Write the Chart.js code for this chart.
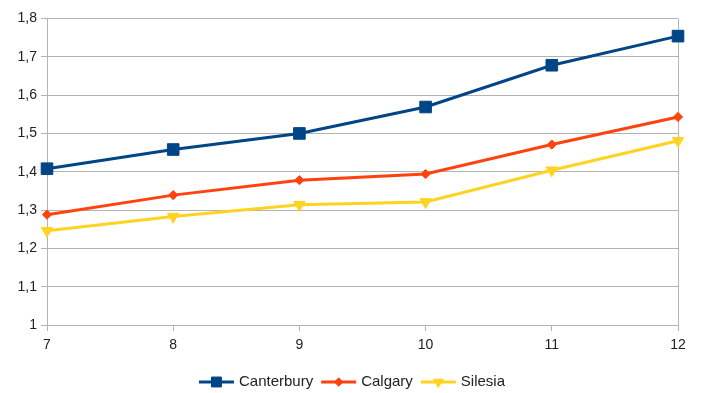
<!DOCTYPE html>
<html>
<head>
<meta charset="utf-8">
<script src="https://cdn.jsdelivr.net/npm/chart.js@4/dist/chart.umd.min.js"></script>
<style>
  html, body { margin: 0; padding: 0; background: #fff; }
  #wrap { width: 704px; height: 393px; }
</style>
</head>
<body>
<div id="wrap"><canvas id="c" width="704" height="393"></canvas></div>
<script>
// X categories and series values
const categories = ['7', '8', '9', '10', '11', '12'];
const canterbury = [1.408, 1.458, 1.500, 1.569, 1.678, 1.754];
const calgary    = [1.288, 1.339, 1.378, 1.394, 1.471, 1.543];
const silesia    = [1.246, 1.283, 1.314, 1.321, 1.404, 1.481];
const yTicks     = [1, 1.1, 1.2, 1.3, 1.4, 1.5, 1.6, 1.7, 1.8];

const FONT = 'Liberation Sans, Arial, sans-serif';
const GRID = '#b3b3b3';

const series = [
  { label: 'Canterbury', data: canterbury, color: '#004586', style: 'rect',     radius: 8.2, legendRadius: 7,   rotation: 0 },
  { label: 'Calgary',    data: calgary,    color: '#ff420e', style: 'rectRot',  radius: 4.6, legendRadius: 4.2, rotation: 0 },
  { label: 'Silesia',    data: silesia,    color: '#ffd320', style: 'triangle', radius: 6.6, legendRadius: 5.6, rotation: 180 }
];

function fmt(v) {
  const r = Math.round(v * 10) / 10;
  return String(r).replace('.', ',');
}

// right border of the plot area
const frame = {
  id: 'frame',
  beforeDatasetsDraw(chart) {
    const a = chart.chartArea, ctx = chart.ctx;
    ctx.save();
    ctx.strokeStyle = GRID;
    ctx.lineWidth = 1;
    ctx.beginPath();
    ctx.moveTo(Math.round(a.right) + 0.5, a.top);
    ctx.lineTo(Math.round(a.right) + 0.5, a.bottom);
    ctx.stroke();
    ctx.restore();
  }
};

// legend: line sample with marker, then label, centred under the chart
const lineLegend = {
  id: 'lineLegend',
  afterDraw(chart) {
    const ctx = chart.ctx;
    const y = 382;
    const lineW = 35, gap = 5, spacing = 8;
    ctx.save();
    ctx.font = '15px ' + FONT;
    const widths = series.map(s => lineW + gap + ctx.measureText(s.label).width);
    const total = widths.reduce((a, b) => a + b, 0) + spacing * (series.length - 1);
    let x = (chart.width - total) / 2;
    series.forEach((s, i) => {
      ctx.strokeStyle = s.color;
      ctx.lineWidth = 3;
      ctx.beginPath();
      ctx.moveTo(x, y);
      ctx.lineTo(x + lineW, y);
      ctx.stroke();
      ctx.fillStyle = s.color;
      ctx.lineWidth = 1;
      Chart.helpers.drawPoint(ctx, {
        pointStyle: s.style, radius: s.legendRadius, rotation: s.rotation, borderWidth: 1
      }, x + lineW / 2, y);
      ctx.fillStyle = '#222';
      ctx.textBaseline = 'middle';
      ctx.textAlign = 'left';
      ctx.fillText(s.label, x + lineW + gap, y);
      x += widths[i] + spacing;
    });
    ctx.restore();
  }
};

new Chart(document.getElementById('c'), {
  type: 'line',
  data: {
    labels: categories,
    datasets: series.map(s => ({
      label: s.label,
      data: s.data,
      borderColor: s.color,
      backgroundColor: s.color,
      borderWidth: 3,
      pointStyle: s.style,
      pointRadius: s.radius,
      pointRotation: s.rotation,
      pointBackgroundColor: s.color,
      pointBorderColor: s.color,
      pointBorderWidth: 1,
      tension: 0,
      fill: false
    }))
  },
  options: {
    responsive: false,
    animation: false,
    devicePixelRatio: 1,
    layout: { padding: { top: 18.5, right: 26, left: 0, bottom: 0 } },
    plugins: { legend: { display: false }, tooltip: { enabled: false } },
    scales: {
      x: {
        type: 'category',
        offset: false,
        grid: { display: true, drawOnChartArea: false, drawTicks: true, tickLength: 6, color: GRID },
        border: { color: GRID, width: 1 },
        ticks: { color: '#222', font: { family: FONT, size: 14 }, padding: 6, maxRotation: 0 },
        afterFit(scale) { scale.height = 68; }
      },
      y: {
        min: 1, max: 1.8,
        afterBuildTicks(scale) { scale.ticks = yTicks.map(v => ({ value: v })); },
        grid: { color: GRID, tickLength: 6, drawTicks: true },
        border: { color: GRID, width: 1 },
        ticks: { color: '#222', font: { family: FONT, size: 14 }, padding: 4, callback: v => fmt(v) },
        afterFit(scale) { scale.width = 47; }
      }
    }
  },
  plugins: [frame, lineLegend]
});
</script>
</body>
</html>
